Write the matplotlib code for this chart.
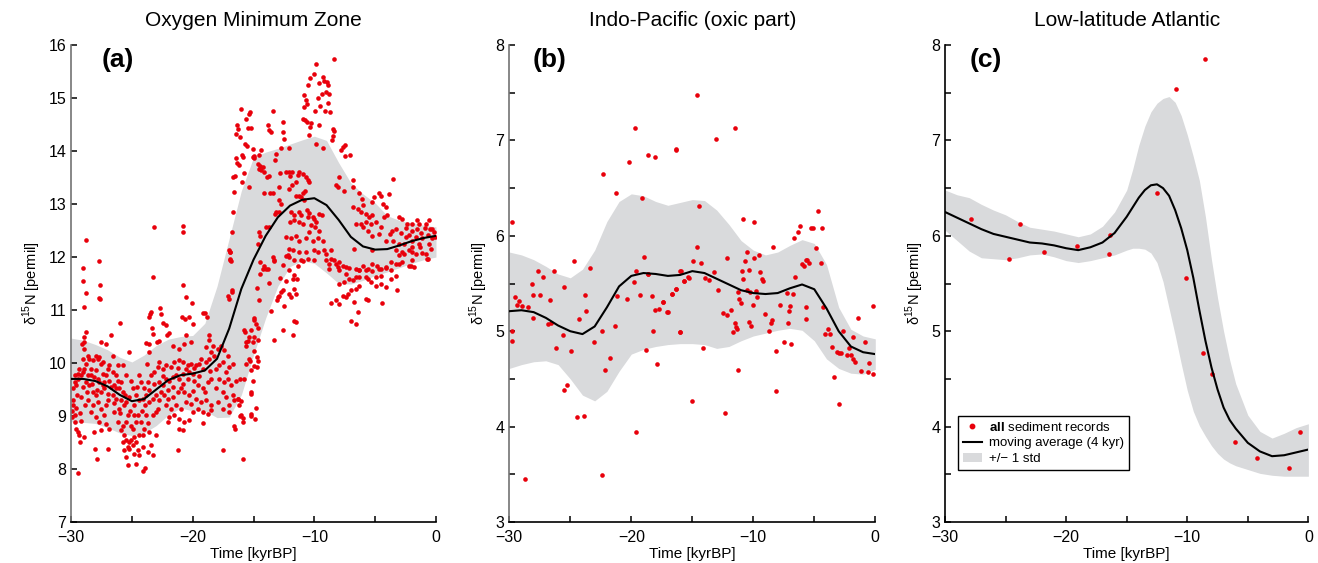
import numpy as np
import matplotlib.pyplot as plt
from matplotlib.lines import Line2D
from matplotlib.patches import Patch

plt.rcParams['font.family'] = ['Liberation Sans', 'DejaVu Sans']
plt.rcParams['mathtext.fontset'] = 'custom'
plt.rcParams['mathtext.rm'] = 'Liberation Sans'
plt.rcParams['mathtext.bf'] = 'Liberation Sans:bold'

# ---------------- panel (a): Oxygen Minimum Zone ----------------
a_glacial = [
    (-29.86, 9.30), (-29.80, 9.20), (-29.90, 8.98), (-29.70, 8.89), (-29.59, 8.76), (-29.45, 8.70),
    (-29.32, 8.64), (-29.27, 8.51), (-29.65, 9.01), (-29.86, 9.52), (-29.59, 9.58), (-29.70, 9.64),
    (-29.45, 9.70), (-29.70, 9.77), (-29.45, 9.80), (-29.18, 9.77), (-29.04, 9.83), (-29.32, 9.89),
    (-28.90, 9.89), (-28.77, 9.99), (-29.04, 10.08), (-28.63, 10.14), (-28.95, 10.27), (-29.10, 10.36),
    (-29.45, 7.93), (-29.95, 9.10), (-29.50, 9.40), (-29.20, 9.35), (-29.00, 9.55), (-28.85, 9.20),
    (-29.15, 8.90), (-28.95, 8.60),
    (-28.80, 12.33), (-29.00, 11.80), (-27.70, 11.92), (-29.00, 11.55), (-28.80, 11.33), (-28.90, 11.06),
    (-27.60, 11.47), (-27.70, 11.23), (-27.60, 11.20), (-23.20, 12.56), (-20.80, 12.58), (-20.80, 12.47),
    (-23.25, 11.62), (-20.77, 11.47), (-20.55, 11.24), (-20.05, 11.14), (-28.90, 10.50), (-28.80, 10.58),
    (-28.95, 10.40),
    (-28.49, 10.08), (-28.22, 10.05), (-27.95, 10.14), (-27.81, 10.08), (-27.67, 10.11), (-27.53, 9.99),
    (-27.40, 10.02), (-28.36, 9.77), (-28.08, 9.74), (-27.81, 9.70), (-27.67, 9.64), (-27.40, 9.58),
    (-28.49, 9.58), (-28.22, 9.45), (-27.95, 9.39), (-27.53, 9.45), (-27.26, 9.52), (-26.99, 9.42),
    (-28.63, 9.30), (-28.22, 9.20), (-27.81, 9.26), (-27.53, 9.14), (-27.12, 9.20), (-28.36, 9.08),
    (-27.95, 8.98), (-27.67, 8.89), (-28.08, 8.70), (-27.89, 8.18), (-28.00, 8.38), (-26.99, 8.38),
    (-27.12, 9.77), (-26.85, 9.67), (-26.99, 9.88), (-26.85, 9.96), (-27.12, 10.35), (-27.53, 10.40),
    (-26.71, 10.53), (-28.63, 9.77), (-28.77, 9.64), (-28.36, 9.89), (-27.95, 9.86), (-27.40, 9.80),
    (-26.99, 9.30), (-27.26, 9.01), (-27.12, 8.85), (-26.85, 8.76), (-27.53, 8.73), (-25.97, 10.75),
    (-26.58, 9.83), (-26.30, 9.77), (-26.16, 9.67), (-26.44, 9.58), (-26.03, 9.52), (-25.75, 9.45),
    (-26.58, 9.39), (-26.30, 9.33), (-25.89, 9.30), (-25.48, 9.26), (-25.21, 9.36), (-25.62, 9.20),
    (-26.03, 9.14), (-26.44, 9.08), (-25.34, 9.01), (-25.48, 8.89), (-25.75, 8.82), (-25.07, 8.82),
    (-26.16, 8.89), (-25.89, 8.73), (-25.62, 8.64), (-25.48, 8.54), (-25.21, 8.51), (-25.34, 8.42),
    (-25.75, 8.51), (-25.62, 8.35), (-25.48, 8.23), (-25.34, 8.07), (-25.07, 8.54), (-24.93, 8.45),
    (-24.79, 8.60), (-25.21, 10.21), (-26.58, 10.14), (-26.16, 9.96), (-25.75, 9.96), (-25.48, 9.77),
    (-25.07, 9.67), (-24.93, 9.52), (-24.66, 9.39), (-25.89, 9.64), (-26.30, 9.52),
    (-24.66, 8.51), (-24.38, 8.64), (-25.21, 8.38), (-24.66, 8.10), (-23.89, 8.01), (-24.05, 7.97),
    (-24.38, 8.26), (-24.11, 8.42), (-24.79, 8.29), (-24.52, 8.35), (-24.93, 8.76), (-24.66, 8.89),
    (-24.79, 9.01),
    (-24.38, 9.30), (-24.11, 9.33), (-23.84, 9.39), (-23.56, 9.26), (-23.29, 9.33), (-23.01, 9.39),
    (-23.97, 9.52), (-23.70, 9.64), (-23.42, 9.77), (-23.15, 9.83), (-22.88, 9.92), (-22.74, 10.02),
    (-23.78, 9.99), (-23.56, 10.21), (-24.38, 9.77), (-24.25, 9.64), (-24.52, 9.01), (-24.25, 8.89),
    (-23.97, 8.76), (-23.70, 8.86), (-23.29, 9.01), (-23.01, 9.08), (-22.88, 9.14), (-23.84, 9.01),
    (-23.56, 8.70), (-24.11, 8.64), (-23.42, 8.45), (-23.70, 8.32), (-23.29, 8.26), (-23.01, 8.64),
    (-23.51, 10.93), (-23.42, 10.96), (-23.56, 10.86), (-22.71, 11.03), (-22.58, 10.92), (-22.41, 10.76),
    (-22.19, 10.72), (-22.11, 10.52), (-21.92, 10.57), (-22.93, 10.40), (-22.74, 10.42), (-23.86, 10.38),
    (-23.62, 10.36), (-23.34, 10.67), (-23.23, 10.55),
    (-22.74, 9.64), (-22.47, 9.58), (-22.19, 9.70), (-21.92, 9.67), (-21.64, 9.74), (-21.37, 9.77),
    (-21.10, 9.70), (-20.82, 9.80), (-20.55, 9.89), (-20.27, 9.83), (-20.00, 9.80), (-22.47, 9.89),
    (-22.19, 9.96), (-21.78, 9.92), (-21.51, 10.02), (-21.10, 10.05), (-20.82, 10.02), (-20.41, 9.96),
    (-20.14, 9.99), (-22.60, 9.45), (-22.33, 9.39), (-22.05, 9.33), (-21.64, 9.36), (-21.23, 9.45),
    (-20.96, 9.52), (-20.68, 9.45), (-20.27, 9.39), (-20.00, 9.48), (-22.19, 9.20), (-21.78, 9.14),
    (-21.37, 9.20), (-20.96, 9.14), (-20.55, 9.26), (-20.14, 9.23), (-21.92, 8.98), (-21.51, 9.01),
    (-21.10, 8.95), (-20.68, 8.89), (-20.27, 8.92), (-20.00, 9.08), (-21.23, 8.35), (-21.10, 8.76),
    (-20.82, 8.73), (-22.05, 8.89),
    (-20.88, 10.87), (-20.60, 10.84), (-20.33, 10.86), (-20.55, 10.53), (-19.95, 10.73), (-21.64, 10.33),
    (-21.10, 10.27), (-20.68, 10.36), (-20.14, 10.40),
    (-19.73, 9.96), (-19.45, 9.99), (-19.18, 9.89), (-18.90, 10.02), (-18.63, 10.08), (-19.86, 9.67),
    (-19.59, 9.58), (-19.18, 9.52), (-18.77, 9.64), (-18.49, 9.70), (-19.73, 9.33), (-19.32, 9.26),
    (-18.90, 9.30), (-18.49, 9.20), (-19.59, 9.14), (-19.18, 9.08), (-18.77, 9.04), (-18.49, 9.11),
    (-19.18, 8.86), (-19.32, 10.08), (-18.90, 10.30), (-18.36, 10.33), (-18.49, 10.21), (-18.63, 10.43),
    (-19.18, 10.94), (-18.96, 10.94), (-18.85, 10.86), (-18.67, 10.53),
    (-29.60, 9.15), (-29.25, 9.05), (-28.70, 9.45), (-28.30, 9.60), (-27.85, 9.50), (-27.25, 9.65),
    (-26.75, 9.55), (-26.45, 9.25), (-25.95, 9.05), (-25.55, 9.40), (-25.15, 9.10), (-24.85, 9.20),
    (-24.55, 9.55), (-24.20, 9.10), (-23.95, 9.20), (-23.60, 9.50), (-23.20, 9.60), (-22.80, 9.30),
    (-22.40, 9.75), (-22.00, 9.50), (-21.60, 9.55), (-21.20, 9.90), (-20.80, 9.60), (-20.40, 9.70),
    (-19.90, 9.90), (-19.50, 9.75), (-19.00, 9.45), (-18.60, 9.85),
]

a_deglacial = [
    (-18.22, 10.14), (-17.95, 10.27), (-17.67, 10.33), (-17.40, 10.24), (-17.12, 10.14), (-18.08, 9.89),
    (-17.81, 9.96), (-17.53, 10.02), (-17.26, 9.83), (-16.99, 9.92), (-16.71, 9.99), (-17.81, 9.70),
    (-17.40, 9.64), (-17.12, 9.70), (-16.85, 9.58), (-16.44, 9.67), (-18.08, 9.52), (-17.53, 9.45),
    (-17.26, 9.36), (-16.71, 9.39), (-16.30, 9.33), (-17.95, 9.26), (-17.53, 9.14), (-16.99, 9.20),
    (-16.58, 9.30), (-16.16, 9.20), (-16.03, 9.01), (-16.99, 9.08), (-16.58, 8.81), (-15.89, 8.89),
    (-17.53, 8.35), (-15.89, 8.18), (-15.21, 9.04), (-15.21, 9.45), (-15.75, 9.70), (-15.40, 10.08),
    (-15.62, 10.40), (-15.21, 10.62), (-14.93, 10.85), (-16.90, 11.97), (-16.99, 12.14), (-17.12, 11.26),
    (-16.77, 11.37), (-15.81, 10.62), (-15.34, 10.50), (-14.79, 10.74),
    (-16.15, 9.70), (-16.28, 9.32), (-16.01, 9.29), (-16.09, 9.00), (-15.87, 8.97), (-15.19, 9.00),
    (-14.84, 8.94), (-14.78, 9.16), (-15.19, 9.41), (-15.06, 9.67), (-15.19, 9.86), (-15.60, 9.98),
    (-15.33, 10.04), (-14.92, 10.23), (-14.73, 10.11), (-14.64, 10.04), (-14.73, 9.92), (-15.06, 10.39),
    (-14.64, 10.44), (-15.46, 10.42), (-15.60, 10.33), (-14.92, 10.50), (-15.74, 10.58), (-14.64, 10.67),
    (-14.92, 10.81), (-14.92, 9.95), (-16.56, 8.75),
    (-16.97, 12.09), (-16.83, 11.93), (-17.02, 11.21), (-16.75, 11.34), (-14.73, 11.41), (-14.56, 11.19),
    (-14.45, 11.68), (-14.10, 11.84), (-13.96, 11.78), (-13.74, 11.51), (-13.55, 10.99), (-13.28, 10.44),
    (-13.01, 11.24), (-13.09, 11.18), (-12.87, 11.27), (-12.73, 11.34), (-12.60, 11.37), (-12.46, 11.08),
    (-12.54, 10.62), (-12.32, 11.54), (-12.10, 11.75), (-12.05, 11.31), (-11.91, 11.24), (-11.72, 10.52),
    (-11.64, 10.80), (-11.50, 10.77), (-11.64, 11.40), (-11.50, 11.31), (-11.45, 11.59), (-12.19, 12.03),
    (-11.31, 11.84), (-10.96, 11.93), (-13.42, 12.00), (-13.28, 11.93),
    (-16.04, 14.80), (-15.33, 14.74), (-15.38, 14.70), (-15.60, 14.61), (-16.34, 14.49), (-16.28, 14.41),
    (-16.48, 14.33), (-15.46, 14.43), (-15.19, 14.43), (-16.09, 14.27), (-13.83, 14.49), (-13.69, 14.39),
    (-13.55, 14.36), (-13.36, 14.75), (-12.54, 14.54), (-12.60, 14.36), (-12.46, 14.22), (-12.73, 14.05),
    (-12.10, 14.05), (-15.71, 14.14), (-15.55, 14.09), (-15.06, 14.03), (-14.37, 14.02), (-15.93, 13.93),
    (-15.87, 13.89), (-16.48, 13.86), (-16.37, 13.78), (-16.20, 13.73), (-15.06, 13.89), (-14.92, 13.90),
    (-15.00, 13.86), (-14.56, 13.92), (-16.69, 13.51), (-16.56, 13.53), (-15.82, 13.59), (-15.93, 13.42),
    (-15.41, 13.33), (-14.64, 13.76), (-14.45, 13.71), (-14.56, 13.67), (-14.22, 13.69), (-14.37, 13.65),
    (-14.10, 13.61), (-13.88, 13.51), (-13.69, 13.52), (-13.14, 13.94), (-13.20, 13.84), (-12.81, 13.59),
    (-12.32, 13.61), (-12.05, 13.61), (-11.99, 13.53), (-11.83, 13.61), (-16.61, 13.23), (-16.69, 12.85),
    (-16.75, 12.47), (-16.97, 12.09), (-16.91, 11.94), (-14.10, 13.20), (-13.63, 13.20), (-13.36, 13.20),
    (-12.87, 13.32), (-11.83, 13.35), (-12.05, 13.29), (-13.14, 12.85), (-12.92, 12.85), (-13.20, 12.81),
    (-12.70, 13.01), (-12.87, 13.08), (-11.91, 12.85), (-11.69, 12.79), (-11.99, 12.66), (-11.64, 12.69),
    (-14.56, 12.48), (-14.45, 12.39), (-14.64, 12.25), (-13.96, 12.57), (-13.74, 12.57), (-12.32, 12.38),
    (-11.91, 12.35), (-12.05, 12.16), (-11.78, 12.13), (-12.32, 12.01), (-12.10, 12.00), (-11.64, 11.94),
    (-14.45, 11.90), (-14.22, 11.78), (-13.83, 11.78), (-13.28, 11.94), (-12.60, 11.85), (-12.79, 11.61),
    (-11.78, 11.59), (-11.64, 11.67),
]

a_holocene = [
    (-9.86, 15.64), (-8.36, 15.74), (-10.03, 15.45), (-10.36, 15.38), (-9.32, 15.40), (-9.18, 15.33),
    (-8.96, 15.31), (-8.85, 15.24), (-9.64, 15.29), (-9.04, 15.12), (-9.37, 15.07), (-9.73, 15.01),
    (-8.77, 15.07), (-8.91, 14.90), (-9.54, 14.85), (-9.10, 14.76), (-8.69, 14.74), (-9.92, 14.76),
    (-10.55, 15.24), (-10.82, 15.06), (-10.68, 14.96), (-10.87, 14.83), (-10.60, 14.89), (-10.96, 14.61),
    (-10.74, 14.58), (-10.57, 14.55), (-10.25, 14.53), (-9.64, 14.50), (-10.33, 14.46), (-10.41, 14.31),
    (-8.50, 14.41), (-8.36, 14.38), (-8.44, 14.28), (-8.55, 14.20), (-7.68, 14.08), (-7.51, 14.12),
    (-7.81, 14.02), (-7.46, 13.90), (-7.08, 13.93), (-9.86, 14.13), (-9.32, 14.05), (-8.01, 13.51),
    (-8.23, 13.35), (-8.09, 13.32), (-7.54, 13.25), (-6.86, 13.32), (-6.86, 13.45), (-6.31, 13.20),
    (-6.12, 13.10), (-6.04, 12.99), (-5.08, 13.13), (-4.67, 13.20), (-4.48, 13.15), (-3.85, 13.18),
    (-3.50, 13.48), (-5.22, 13.04), (-4.34, 13.01), (-4.13, 12.95),
    (-11.23, 13.61), (-11.36, 13.54), (-10.96, 13.57), (-10.68, 13.51), (-10.55, 13.45), (-10.41, 13.41),
    (-11.50, 13.42), (-11.50, 13.16), (-11.23, 13.16), (-11.09, 13.13), (-10.82, 13.07), (-10.90, 13.20),
    (-10.74, 13.24), (-11.23, 12.85), (-11.09, 12.79), (-10.63, 12.88), (-10.41, 12.83), (-10.55, 12.76),
    (-10.14, 12.76), (-9.64, 12.82), (-9.37, 12.79), (-10.00, 12.71), (-9.86, 12.66), (-11.23, 12.66),
    (-10.96, 12.63), (-10.27, 12.60), (-9.92, 12.57), (-9.59, 12.50), (-10.41, 12.47), (-11.50, 12.39),
    (-11.23, 12.31), (-10.68, 12.35), (-10.14, 12.30), (-9.73, 12.35), (-9.32, 12.31), (-11.23, 12.09),
    (-10.68, 12.09), (-10.00, 12.13), (-9.18, 12.13), (-8.63, 12.14), (-11.09, 11.94), (-10.55, 11.97),
    (-10.00, 11.94), (-9.04, 11.94), (-8.77, 11.87), (-8.36, 11.94), (-7.95, 11.90), (-8.09, 11.81),
    (-7.41, 11.81), (-7.13, 11.80), (-6.58, 11.78), (-6.31, 11.75), (-5.77, 11.75), (-5.22, 11.73),
    (-4.67, 11.78), (-4.13, 11.80), (-3.72, 11.76), (-6.31, 11.62), (-5.63, 11.59), (-4.95, 11.62),
    (-4.54, 11.65),
    (-9.73, 12.09), (-9.04, 12.06), (-8.63, 11.97), (-8.23, 11.87), (-8.77, 11.78), (-7.95, 11.75),
    (-7.68, 11.84), (-7.41, 11.68), (-7.13, 11.59), (-7.54, 11.53), (-7.95, 11.49), (-6.86, 11.56),
    (-6.58, 11.62), (-6.31, 11.75), (-6.04, 11.84), (-5.63, 11.78), (-5.22, 11.87), (-4.81, 11.84),
    (-4.54, 11.78), (-4.13, 11.81), (-3.72, 11.90), (-3.31, 11.87), (-3.03, 12.03), (-2.62, 12.06),
    (-1.94, 12.09), (-2.21, 11.84), (-1.80, 11.81), (-0.71, 11.97), (-5.77, 11.62), (-5.36, 11.53),
    (-4.95, 11.46), (-4.54, 11.49), (-4.13, 11.43), (-3.72, 11.59), (-6.31, 11.46), (-6.58, 11.40),
    (-7.00, 11.37), (-7.27, 11.31), (-7.68, 11.27), (-8.23, 11.18), (-8.63, 11.13), (-7.95, 11.12),
    (-7.41, 11.24), (-6.72, 11.15), (-6.45, 10.96), (-6.58, 10.74), (-7.00, 10.80), (-5.77, 11.21),
    (-5.63, 11.18), (-4.40, 11.13), (-3.17, 11.37), (-3.31, 11.65),
    (-3.03, 12.76), (-2.76, 12.72), (-2.35, 12.63), (-1.94, 12.63), (-1.40, 12.63), (-0.85, 12.63),
    (-0.58, 12.69), (-0.52, 12.52), (-0.16, 12.47), (-0.30, 12.53), (-1.53, 12.53), (-1.94, 12.50),
    (-2.21, 12.41), (-2.49, 12.38), (-2.62, 12.25), (-1.94, 12.19), (-1.40, 12.25), (-0.58, 12.25),
    (-0.30, 12.35), (-0.10, 12.38), (-0.68, 12.41), (-1.12, 12.35), (-1.67, 12.38), (-3.03, 12.25),
    (-3.31, 12.13), (-2.76, 12.09), (-2.21, 12.13), (-1.67, 12.06), (-1.12, 12.07), (-1.94, 11.94),
    (-0.68, 11.96), (-3.03, 11.87), (-2.08, 11.84), (-2.76, 11.91), (-1.20, 12.45), (-0.90, 12.55),
    (-2.00, 12.30), (-2.90, 12.45), (-0.40, 12.15), (-1.60, 12.70), (-2.50, 12.55), (-3.50, 12.30),
    (-0.80, 12.05), (-1.30, 12.18),
    (-4.26, 12.76), (-3.99, 12.79), (-4.54, 12.57), (-3.58, 12.50), (-3.80, 12.44), (-3.31, 12.53),
    (-6.80, 12.95), (-6.45, 12.91), (-6.18, 12.85), (-5.77, 12.82), (-5.49, 12.76), (-5.22, 12.79),
    (-4.95, 12.66), (-5.36, 12.63), (-5.77, 12.66), (-6.18, 12.63), (-6.58, 12.63), (-6.04, 12.57),
    (-5.63, 12.50), (-5.22, 12.39), (-4.67, 12.43), (-4.13, 12.31), (-5.22, 12.13), (-6.72, 12.16),
]

a_t = [-30, -29, -28, -27, -26, -25, -24, -23, -22, -21, -20, -19, -18, -17, -16, -15,
       -14, -13, -12, -11, -10, -9, -8, -7, -6, -5, -4, -3, -2, -1, 0]
a_mean = [9.70, 9.70, 9.66, 9.56, 9.40, 9.28, 9.32, 9.50, 9.68, 9.77, 9.80, 9.86, 10.08, 10.65, 11.40, 11.95,
          12.40, 12.75, 12.97, 13.08, 13.11, 12.98, 12.70, 12.38, 12.20, 12.14, 12.15, 12.22, 12.30, 12.36, 12.40]
a_upper = [10.47, 10.43, 10.35, 10.25, 10.11, 10.02, 10.15, 10.33, 10.45, 10.50, 10.52, 10.75, 11.45, 12.35, 13.25, 13.88,
           13.98, 14.05, 14.13, 14.21, 14.28, 14.20, 13.78, 13.40, 13.19, 13.02, 12.78, 12.69, 12.65, 12.60, 12.57]
a_lower = [8.89, 8.88, 8.86, 8.78, 8.68, 8.63, 8.68, 8.82, 9.02, 9.15, 9.10, 9.10, 8.97, 8.98, 9.40, 10.15,
           10.85, 11.45, 11.82, 11.93, 11.88, 11.70, 11.50, 11.49, 11.56, 11.65, 11.72, 11.80, 11.88, 11.95, 12.00]

# ---------------- panel (b): Indo-Pacific (oxic part) ----------------
b_pts = [
    (-29.75, 6.14), (-19.70, 7.13), (-16.34, 6.91), (-18.60, 6.85), (-18.06, 6.83), (-20.19, 6.77),
    (-22.32, 6.65), (-21.28, 6.45), (-19.15, 6.40), (-18.93, 5.78), (-24.67, 5.74), (-23.38, 5.66),
    (-27.62, 5.63), (-27.21, 5.57), (-26.33, 5.63), (-19.64, 5.63), (-18.60, 5.60), (-16.01, 5.63),
    (-28.11, 5.49), (-28.08, 5.38), (-27.48, 5.38), (-29.53, 5.36), (-29.18, 5.32), (-29.39, 5.27),
    (-28.93, 5.26), (-28.49, 5.25), (-28.03, 5.14), (-26.69, 5.33), (-25.49, 5.46), (-23.82, 5.38),
    (-23.68, 5.21), (-24.31, 5.13), (-26.85, 5.08), (-26.58, 5.09), (-29.80, 5.00), (-29.78, 4.90),
    (-25.60, 4.96), (-26.20, 4.82), (-24.97, 4.79), (-23.03, 4.89), (-22.40, 5.00), (-21.34, 5.05),
    (-21.14, 5.37), (-20.38, 5.34), (-19.78, 5.52), (-18.66, 5.60), (-19.29, 5.38), (-18.33, 5.37),
    (-18.03, 5.22), (-17.70, 5.23), (-17.37, 5.31), (-17.02, 5.20), (-16.69, 5.39), (-16.34, 5.44),
    (-15.65, 5.53), (-15.32, 5.57), (-18.19, 5.00), (-18.80, 4.80), (-17.92, 4.66), (-16.04, 4.99),
    (-21.75, 4.72), (-22.16, 4.59), (-25.52, 4.38), (-25.27, 4.44), (-24.48, 4.10), (-23.85, 4.11),
    (-19.61, 3.94), (-22.43, 3.49), (-28.71, 3.45),
    (-14.48, 6.31), (-10.85, 6.18), (-9.92, 6.14), (-4.70, 6.26), (-6.20, 6.10), (-6.36, 6.04),
    (-6.66, 5.98), (-5.27, 6.08), (-5.08, 6.08), (-4.34, 6.08), (-4.89, 5.87), (-8.41, 5.88),
    (-14.62, 5.88), (-14.97, 5.74), (-14.29, 5.71), (-12.18, 5.77), (-10.54, 5.83), (-10.71, 5.74),
    (-9.97, 5.77), (-9.56, 5.80), (-10.33, 5.64), (-10.93, 5.63), (-10.85, 5.55), (-9.42, 5.62),
    (-9.31, 5.55), (-9.18, 5.53), (-5.71, 5.75), (-5.63, 5.75), (-5.98, 5.70), (-5.84, 5.68),
    (-5.46, 5.71), (-4.48, 5.71), (-6.55, 5.57), (-15.95, 5.63), (-15.65, 5.53), (-15.30, 5.56),
    (-13.93, 5.56), (-13.60, 5.54), (-13.22, 5.62), (-16.33, 5.44), (-16.66, 5.39), (-17.37, 5.31),
    (-17.05, 5.20), (-12.87, 5.43), (-11.23, 5.41), (-10.54, 5.43), (-10.27, 5.41), (-9.80, 5.42),
    (-9.70, 5.36), (-11.15, 5.34), (-11.01, 5.30), (-10.05, 5.28), (-11.83, 5.22), (-12.51, 5.19),
    (-12.13, 5.17), (-11.53, 5.09), (-11.42, 5.04), (-11.31, 5.02), (-11.64, 4.99), (-10.38, 5.10),
    (-10.19, 5.05), (-9.01, 5.18), (-8.44, 5.12), (-8.55, 5.09), (-8.71, 5.00), (-7.78, 5.27),
    (-7.02, 5.26), (-7.07, 5.21), (-7.18, 5.09), (-7.27, 5.40), (-6.72, 5.39), (-5.71, 5.25),
    (-5.71, 5.13), (-4.32, 5.25), (-0.16, 5.26), (-1.39, 5.14), (-3.91, 5.02), (-4.10, 4.97),
    (-3.72, 4.97), (-2.62, 5.00), (-1.86, 4.94), (-0.85, 4.89), (-3.52, 4.83), (-3.14, 4.78),
    (-2.98, 4.77), (-2.84, 4.77), (-2.35, 4.75), (-2.13, 4.82), (-1.96, 4.75), (-1.86, 4.71),
    (-1.64, 4.68), (-0.49, 4.67), (-1.17, 4.58), (-0.60, 4.57), (-0.16, 4.55), (-3.36, 4.52),
    (-7.51, 4.89), (-6.88, 4.87), (-8.11, 4.79), (-14.10, 4.82), (-16.01, 4.99), (-11.28, 4.59),
    (-8.11, 4.37), (-15.05, 4.27), (-14.59, 7.48), (-11.50, 7.13), (-13.03, 7.02), (-16.36, 6.90),
    (-12.29, 4.14), (-2.95, 4.24),
]

b_t = a_t
b_mean = [5.21, 5.22, 5.20, 5.14, 5.06, 5.00, 4.97, 5.05, 5.25, 5.47, 5.58, 5.61, 5.60, 5.58, 5.59, 5.63,
          5.61, 5.55, 5.49, 5.43, 5.40, 5.39, 5.40, 5.45, 5.49, 5.44, 5.24, 5.00, 4.84, 4.78, 4.76]
b_upper = [5.83, 5.80, 5.75, 5.68, 5.60, 5.56, 5.65, 5.85, 6.15, 6.36, 6.44, 6.42, 6.36, 6.32, 6.35, 6.38,
           6.37, 6.27, 6.12, 5.95, 5.85, 5.80, 5.83, 5.90, 5.96, 5.92, 5.70, 5.25, 5.02, 4.95, 4.92]
b_lower = [4.61, 4.65, 4.68, 4.69, 4.65, 4.50, 4.33, 4.27, 4.37, 4.58, 4.76, 4.81, 4.84, 4.86, 4.87, 4.87,
           4.86, 4.82, 4.84, 4.90, 4.95, 4.98, 5.01, 5.03, 5.01, 4.90, 4.71, 4.61, 4.56, 4.55, 4.60]

# ---------------- panel (c): Low-latitude Atlantic ----------------
c_pts = [
    (-27.85, 6.18), (-23.81, 6.12), (-24.69, 5.76), (-21.85, 5.83), (-19.10, 5.89), (-16.40, 6.01),
    (-16.48, 5.81), (-12.52, 6.45), (-10.89, 7.54), (-8.50, 7.85), (-10.12, 5.56), (-8.72, 4.77),
    (-7.92, 4.55), (-6.02, 3.84), (-4.26, 3.67), (-1.59, 3.57), (-0.71, 3.94),
]

c_t = [-30, -29, -28, -27, -26, -25, -24, -23, -22, -21, -20, -19, -18, -17, -16, -15, -14.5,
       -14, -13.5, -13, -12.5, -12, -11.5, -11, -10.5, -10, -9.5, -9, -8.5, -8, -7.5, -7, -6.5,
       -6, -5, -4, -3, -2, -1, 0]
c_mean = [6.25, 6.19, 6.13, 6.07, 6.02, 5.99, 5.96, 5.93, 5.92, 5.90, 5.87, 5.85, 5.88, 5.93, 6.03, 6.20, 6.30,
          6.40, 6.48, 6.53, 6.54, 6.50, 6.42, 6.27, 6.08, 5.85, 5.56, 5.22, 4.90, 4.62, 4.39, 4.20, 4.07,
          3.98, 3.83, 3.74, 3.69, 3.70, 3.73, 3.76]
c_upper = [6.48, 6.43, 6.40, 6.33, 6.27, 6.22, 6.15, 6.09, 6.07, 6.05, 6.02, 5.99, 6.02, 6.10, 6.25, 6.48, 6.70,
           6.95, 7.15, 7.30, 7.39, 7.44, 7.46, 7.40, 7.26, 7.06, 6.83, 6.58, 6.20, 5.75, 5.35, 5.00, 4.70,
           4.45, 4.12, 3.95, 3.88, 3.93, 3.99, 4.03]
c_lower = [6.06, 5.95, 5.84, 5.77, 5.76, 5.75, 5.77, 5.80, 5.81, 5.78, 5.74, 5.72, 5.74, 5.77, 5.80, 5.85, 5.87,
           5.87, 5.86, 5.82, 5.72, 5.52, 5.24, 4.96, 4.66, 4.38, 4.16, 4.01, 3.90, 3.80, 3.72, 3.66, 3.62,
           3.59, 3.55, 3.51, 3.49, 3.48, 3.48, 3.48]

titles = ['Oxygen Minimum Zone', 'Indo-Pacific (oxic part)', 'Low-latitude Atlantic']
tags = ['(a)', '(b)', '(c)']

red = '#e8000b'
band = '#d9dadc'

fig = plt.figure(figsize=(13.18, 5.63), dpi=100)
ax_a = fig.add_axes([0.0539, 0.0728, 0.2769, 0.8472])
ax_b = fig.add_axes([0.3864, 0.0728, 0.2777, 0.8472])
ax_c = fig.add_axes([0.7170, 0.0728, 0.2757, 0.8472])


def draw(ax, pts, t, mean, lo, hi, title, tag, tag_x, ylim, minor_y):
    pts = np.array(pts)
    ax.fill_between(t, lo, hi, color=band, lw=0, zorder=1)
    ax.scatter(pts[:, 0], pts[:, 1], s=11, color=red, lw=0, zorder=2)
    ax.plot(t, mean, color='black', lw=1.5, zorder=3)
    ax.set_xlim(-30, 0)
    ax.set_ylim(*ylim)
    ax.set_xticks([-30, -20, -10, 0])
    ax.set_xticks([-25, -15, -5], minor=True)
    ax.set_yticks(np.arange(ylim[0], ylim[1] + 1))
    if minor_y:
        ax.set_yticks(np.arange(ylim[0] + 0.5, ylim[1], 1.0), minor=True)
    ax.tick_params(which='both', direction='in', length=4, width=1.1, labelsize=11.5)
    ax.tick_params(axis='x', which='both', pad=6)
    for s in ['top', 'right']:
        ax.spines[s].set_visible(False)
    for s in ['left', 'bottom']:
        ax.spines[s].set_linewidth(1.2)
    ax.set_xlabel('Time [kyrBP]', fontsize=11, labelpad=1)
    ax.set_ylabel('δ$^{15}$N [permil]', fontsize=10.5)
    ax.set_title(title, fontsize=15, pad=14)
    ax.text(tag_x, 0.969, tag, transform=ax.transAxes, fontsize=19, fontweight='bold',
            ha='center', va='center')


draw(ax_a, a_glacial + a_deglacial + a_holocene, a_t, a_mean, a_lower, a_upper,
     titles[0], tags[0], 0.129, (7, 16), False)
draw(ax_b, b_pts, b_t, b_mean, b_lower, b_upper, titles[1], tags[1], 0.111, (3, 8), True)
draw(ax_c, c_pts, c_t, c_mean, c_lower, c_upper, titles[2], tags[2], 0.112, (3, 8), True)
ax_a.spines['left'].set_color('0.45')
ax_b.spines['left'].set_color('0.45')

handles = [
    Line2D([], [], ls='none', marker='o', ms=3.2, color=red),
    Line2D([], [], color='black', lw=1.5),
    Patch(facecolor=band, edgecolor='none'),
]
labels = [r'$\mathbf{all}$ sediment records', 'moving average (4 kyr)', '+/− 1 std']
leg = ax_c.legend(handles, labels, loc='lower left', bbox_to_anchor=(0.037, 0.11),
                  borderaxespad=0, fontsize=9.5, frameon=True, fancybox=False,
                  edgecolor='black', framealpha=1, handlelength=1.4, handletextpad=0.6,
                  labelspacing=0.25, borderpad=0.35)
leg.get_frame().set_linewidth(1.0)

fig.savefig('out.png', dpi=100)
